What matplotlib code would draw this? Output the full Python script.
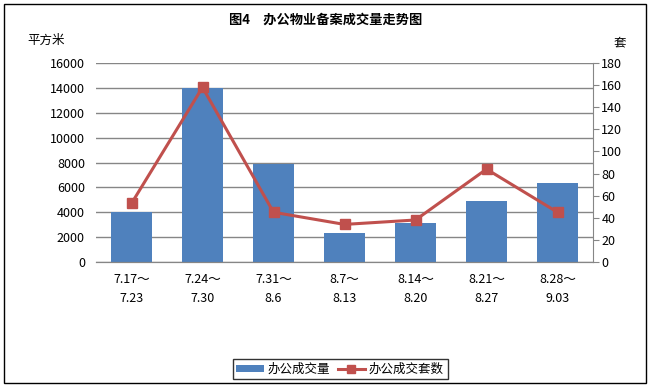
import matplotlib
matplotlib.use("Agg")
import matplotlib.pyplot as plt
from matplotlib.patches import Rectangle, Patch
from matplotlib.lines import Line2D
import numpy as np

plt.rcParams['font.family'] = ['Noto Sans CJK SC', 'DejaVu Sans']

weeks = ['7.17～\n7.23', '7.24～\n7.30', '7.31～\n8.6', '8.7～\n8.13',
         '8.14～\n8.20', '8.21～\n8.27', '8.28～\n9.03']
area = [4000, 14000, 7860, 2330, 3140, 4900, 6350]
units = [53, 158, 45, 34, 38, 84, 45]

bar_color = '#4F81BD'
line_color = '#C0504D'
grid_color = '#868686'

fig = plt.figure(figsize=(6.51, 3.87), dpi=100)
ax = fig.add_axes([96 / 651, 1 - 262 / 387, 497 / 651, 199 / 387])
ax2 = ax.twinx()

x = np.arange(len(weeks))
ax.bar(x, area, width=0.58, color=bar_color, zorder=2)
ax2.plot(x, units, color=line_color, lw=2.2, marker='s', markersize=7,
         markerfacecolor=line_color, markeredgecolor=line_color, zorder=3)

ax.set_xlim(-0.5, len(weeks) - 0.5)
ax.set_ylim(0, 16000)
ax.set_yticks(range(0, 16001, 2000))
ax2.set_ylim(0, 180)
ax2.set_yticks(range(0, 181, 20))

ax.set_xticks(x)
ax.set_xticklabels(weeks, fontsize=9, linespacing=1.6)
ax.yaxis.grid(True, color=grid_color, lw=1, zorder=0)
ax.set_axisbelow(True)

for a in (ax, ax2):
    a.spines['top'].set_visible(False)
    a.spines['left'].set_visible(False)
    a.spines['right'].set_visible(False)
    a.spines['bottom'].set_color(grid_color)
ax2.spines['right'].set_visible(True)
ax2.spines['right'].set_color(grid_color)

ax.tick_params(axis='y', length=0, labelsize=9, pad=8)
ax.tick_params(axis='x', length=0, pad=8)
ax2.tick_params(axis='y', length=4, color=grid_color, labelsize=9, pad=2)

fig.text(0.5, 1 - 20 / 387, '图4　办公物业备案成交量走势图', ha='center', va='center',
         fontsize=9.5, fontweight='bold')
fig.text(46 / 651, 1 - 40 / 387, '平方米', ha='center', va='center', fontsize=9)
fig.text(620 / 651, 1 - 43 / 387, '套', ha='center', va='center', fontsize=9)

handles = [Patch(facecolor=bar_color),
           Line2D([], [], color=line_color, lw=2.2, marker='s', markersize=6)]
leg = fig.legend(handles, ['办公成交量', '办公成交套数'], loc='center',
                 bbox_to_anchor=(340 / 651, 1 - 369 / 387), ncol=2, fontsize=9,
                 frameon=True, fancybox=False, edgecolor='black', handlelength=2.2,
                 handleheight=0.5, columnspacing=0.6, handletextpad=0.3, borderpad=0.3)
leg.get_frame().set_linewidth(1)

fig.patches.append(Rectangle((4 / 651, 4 / 387), 642 / 651, 379 / 387, transform=fig.transFigure,
                             fill=False, edgecolor='black', lw=1))

fig.savefig('out.png', dpi=100)
